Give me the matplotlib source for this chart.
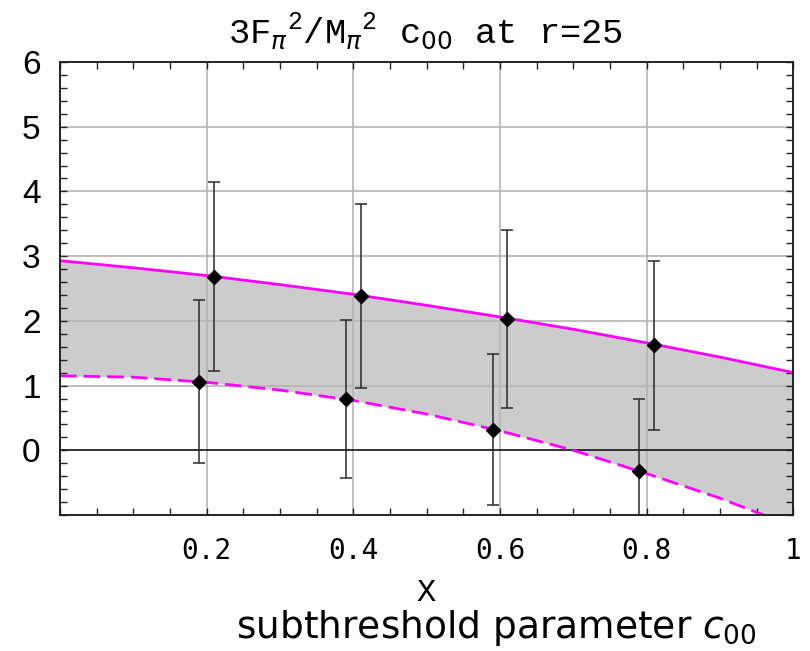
import matplotlib
matplotlib.use("Agg")
import matplotlib.pyplot as plt
from matplotlib.ticker import MultipleLocator, FixedLocator

plt.rcParams['mathtext.fontset'] = 'custom'
plt.rcParams['mathtext.rm'] = 'Liberation Mono'
plt.rcParams['mathtext.it'] = 'DejaVu Sans:italic'
plt.rcParams['mathtext.sf'] = 'DejaVu Sans'

# band boundaries (upper: solid, lower: dashed)
x_curve = [0.0, 0.1, 0.2, 0.3, 0.4, 0.5, 0.6, 0.7, 0.8, 0.9, 1.0]
upper_curve = [2.93, 2.82, 2.70, 2.56, 2.41, 2.24, 2.06, 1.87, 1.66, 1.44, 1.20]
lower_curve = [1.15, 1.13, 1.05, 0.93, 0.77, 0.56, 0.30, 0.00, -0.36, -0.74, -1.18]

# data points with errors
x_upper = [0.21, 0.41, 0.61, 0.81]
y_upper = [2.68, 2.38, 2.03, 1.62]
err_upper = [1.46, 1.42, 1.37, 1.31]
x_lower = [0.19, 0.39, 0.59, 0.79]
y_lower = [1.06, 0.79, 0.32, -0.32]
err_lower = [1.26, 1.22, 1.17, 1.12]

xticks = [0.2, 0.4, 0.6, 0.8, 1.0]
xtick_labels = ['0.2', '0.4', '0.6', '0.8', '1']
yticks = [0, 1, 2, 3, 4, 5, 6]

fig = plt.figure(figsize=(8.1, 6.51), dpi=100)
ax = fig.add_axes([60 / 810, (651 - 515) / 651, 733.3 / 810, 453 / 651])
ax.set_axisbelow('line')

ax.fill_between(x_curve, lower_curve, upper_curve, color='#cccccc', lw=0, zorder=1)
ax.axhline(0, color='#222222', lw=1.3, zorder=1.6)
ax.plot(x_curve, upper_curve, color='#ff00ff', lw=2, zorder=2)
ax.plot(x_curve, lower_curve, color='#ff00ff', lw=2, dashes=(6, 2.5), zorder=2)

for xs, ys, es in [(x_upper, y_upper, err_upper), (x_lower, y_lower, err_lower)]:
    ax.errorbar(xs, ys, yerr=es, fmt='D', color='black', ms=7.5,
                ecolor='#2a2a2a', elinewidth=1.1, capsize=4, capthick=1.1, zorder=3)

ax.set_xlim(0, 1)
ax.set_ylim(-1, 6)
ax.xaxis.set_major_locator(FixedLocator(xticks))
ax.set_xticklabels(xtick_labels, family='DejaVu Sans Mono', fontsize=20)
ax.xaxis.set_minor_locator(MultipleLocator(0.05))
ax.yaxis.set_major_locator(FixedLocator(yticks))
ax.set_yticklabels([str(v) for v in yticks], family='Liberation Sans', fontsize=24)
ax.yaxis.set_minor_locator(MultipleLocator(0.2))
ax.tick_params(which='both', direction='in', top=True, right=True, length=5, width=1, color='#222222')
ax.tick_params(axis='x', which='major', pad=16)
ax.tick_params(axis='y', which='major', pad=14)

for v in [0.2, 0.4, 0.6, 0.8]:
    ax.axvline(v, color='#b4b4b4', lw=1.2, zorder=1.5)
for v in [1, 2, 3, 4, 5]:
    ax.axhline(v, color='#b4b4b4', lw=1.2, zorder=1.5)

for s in ax.spines.values():
    s.set_linewidth(1.4)
    s.set_color('#222222')

fig.text(0.525, 1 - 31 / 651, r'3F$_\pi$$^2$/M$_\pi$$^2$ c$_{\mathsf{00}}$ at r=25',
         family='Liberation Mono', fontsize=25.5, ha='center', va='center')
fig.text(426 / 810, 1 - 593 / 651, 'X', family='Liberation Mono', fontsize=23,
         ha='center', va='center')
fig.text(496 / 810, 1 - 628 / 651, r'subthreshold parameter $c_{\mathsf{00}}$',
         family='DejaVu Sans', fontsize=27, ha='center', va='center')

fig.savefig('out.png', dpi=100)
